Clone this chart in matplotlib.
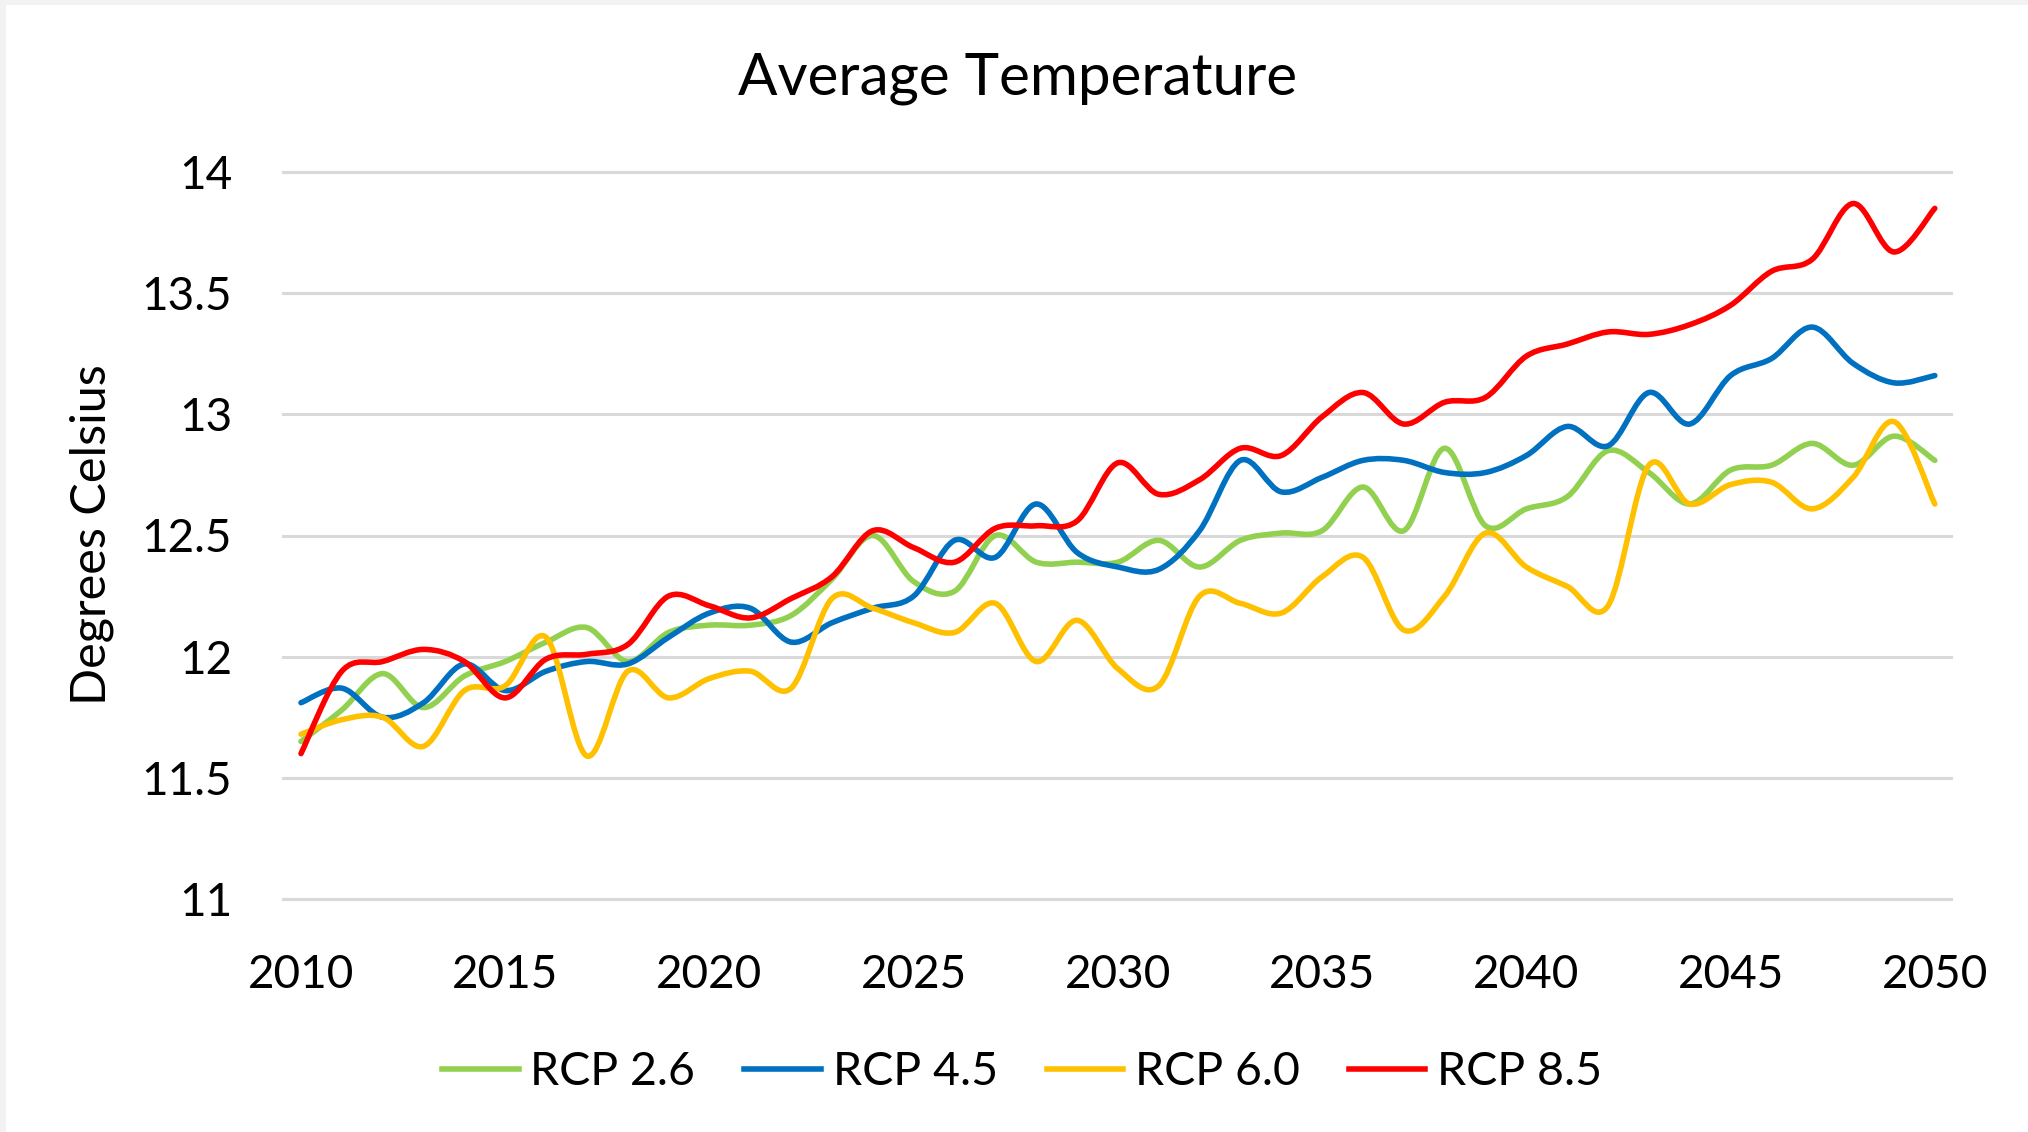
import numpy as np
import matplotlib.pyplot as plt
from matplotlib.path import Path
from matplotlib.patches import PathPatch, Rectangle
from matplotlib.lines import Line2D

plt.rcParams['font.family'] = ['Lato', 'DejaVu Sans']

years = np.arange(2010, 2051)

rcp26 = [11.65, 11.78, 11.93, 11.79, 11.92, 11.98, 12.06, 12.12, 11.98, 12.10,
         12.13, 12.13, 12.17, 12.32, 12.50, 12.31, 12.27, 12.50, 12.39, 12.39,
         12.39, 12.48, 12.37, 12.48, 12.51, 12.52, 12.70, 12.52, 12.86, 12.54,
         12.61, 12.66, 12.85, 12.76, 12.63, 12.77, 12.79, 12.88, 12.79, 12.91,
         12.81]
rcp45 = [11.81, 11.87, 11.75, 11.81, 11.97, 11.86, 11.94, 11.98, 11.97, 12.08,
         12.18, 12.20, 12.06, 12.14, 12.20, 12.25, 12.48, 12.41, 12.63, 12.43,
         12.37, 12.36, 12.52, 12.81, 12.68, 12.74, 12.81, 12.81, 12.76, 12.76,
         12.83, 12.95, 12.87, 13.09, 12.96, 13.16, 13.23, 13.36, 13.21, 13.13,
         13.16]
rcp60 = [11.68, 11.74, 11.75, 11.63, 11.86, 11.88, 12.08, 11.59, 11.94, 11.83,
         11.91, 11.94, 11.87, 12.24, 12.20, 12.14, 12.10, 12.22, 11.98, 12.15,
         11.95, 11.88, 12.25, 12.22, 12.18, 12.33, 12.41, 12.11, 12.25, 12.51,
         12.37, 12.29, 12.21, 12.79, 12.63, 12.71, 12.72, 12.61, 12.74, 12.97,
         12.63]
rcp85 = [11.60, 11.94, 11.98, 12.03, 11.98, 11.83, 11.99, 12.01, 12.05, 12.25,
         12.21, 12.16, 12.24, 12.33, 12.52, 12.45, 12.39, 12.53, 12.54, 12.56,
         12.80, 12.67, 12.73, 12.86, 12.83, 12.99, 13.09, 12.96, 13.05, 13.07,
         13.24, 13.29, 13.34, 13.33, 13.37, 13.45, 13.59, 13.64, 13.87, 13.67,
         13.85]

labels = ['RCP 2.6', 'RCP 4.5', 'RCP 6.0', 'RCP 8.5']
colors = ['#92D050', '#0070C0', '#FFC000', '#FF0000']
series = [rcp26, rcp45, rcp60, rcp85]


def smooth_path(x, y):
    # Excel-like smoothed line: Catmull-Rom segments as cubic Beziers
    p = np.column_stack([x, y]).astype(float)
    p = np.vstack([p[0], p, p[-1]])
    verts = [p[1]]
    codes = [Path.MOVETO]
    for i in range(1, len(p) - 2):
        c1 = p[i] + (p[i + 1] - p[i - 1]) / 6
        c2 = p[i + 1] - (p[i + 2] - p[i]) / 6
        verts += [c1, c2, p[i + 1]]
        codes += [Path.CURVE4] * 3
    return Path(verts, codes)


fig = plt.figure(figsize=(20.28, 11.32), dpi=100, facecolor='#F2F2F2')
fig.patches.append(Rectangle((6 / 2028, 0), 1, 1 - 5 / 1132, transform=fig.transFigure,
                             facecolor='white', edgecolor='none', zorder=-10))

px_deg = 242.33
ax = fig.add_axes([282 / 2028, 1 - (899 + 5) / 1132, 1671 / 2028, (727 + 10) / 1132])
ax.set_facecolor('none')
ax.set_xlim(2009.535, 2050.445)
ax.set_ylim(11 - 5 / px_deg, 14 + 5 / px_deg)

for vals, c in zip(series, colors):
    ax.add_patch(PathPatch(smooth_path(years, vals), facecolor='none', edgecolor=c,
                           lw=4, capstyle='round', joinstyle='round', zorder=3))

ax.set_yticks(np.arange(11, 14.01, 0.5))
ax.set_yticklabels(['11', '11.5', '12', '12.5', '13', '13.5', '14'])
ax.set_xticks(np.arange(2010, 2051, 5))
ax.grid(axis='y', color='#D9D9D9', lw=2.2)
ax.set_axisbelow(True)
for s in ax.spines.values():
    s.set_visible(False)
ax.tick_params(axis='both', length=0, labelsize=33, colors='black')
ax.tick_params(axis='y', pad=36)
ax.tick_params(axis='x', pad=36)

fig.text(0.502, 0.931, 'Average Temperature', ha='center', va='center', fontsize=42)
fig.text(0.045, 1 - 535 / 1132, 'Degrees Celsius', rotation=90, ha='center', va='center',
         fontsize=35)

handles = [Line2D([], [], color=c, lw=4) for c in colors]
fig.legend(handles, labels, loc='center', bbox_to_anchor=(0.504, 0.053), ncol=4,
           frameon=False, fontsize=33.5, handlelength=1.65, handletextpad=0.25,
           columnspacing=1.05)

fig.savefig('out.png', dpi=100, facecolor=fig.get_facecolor())
